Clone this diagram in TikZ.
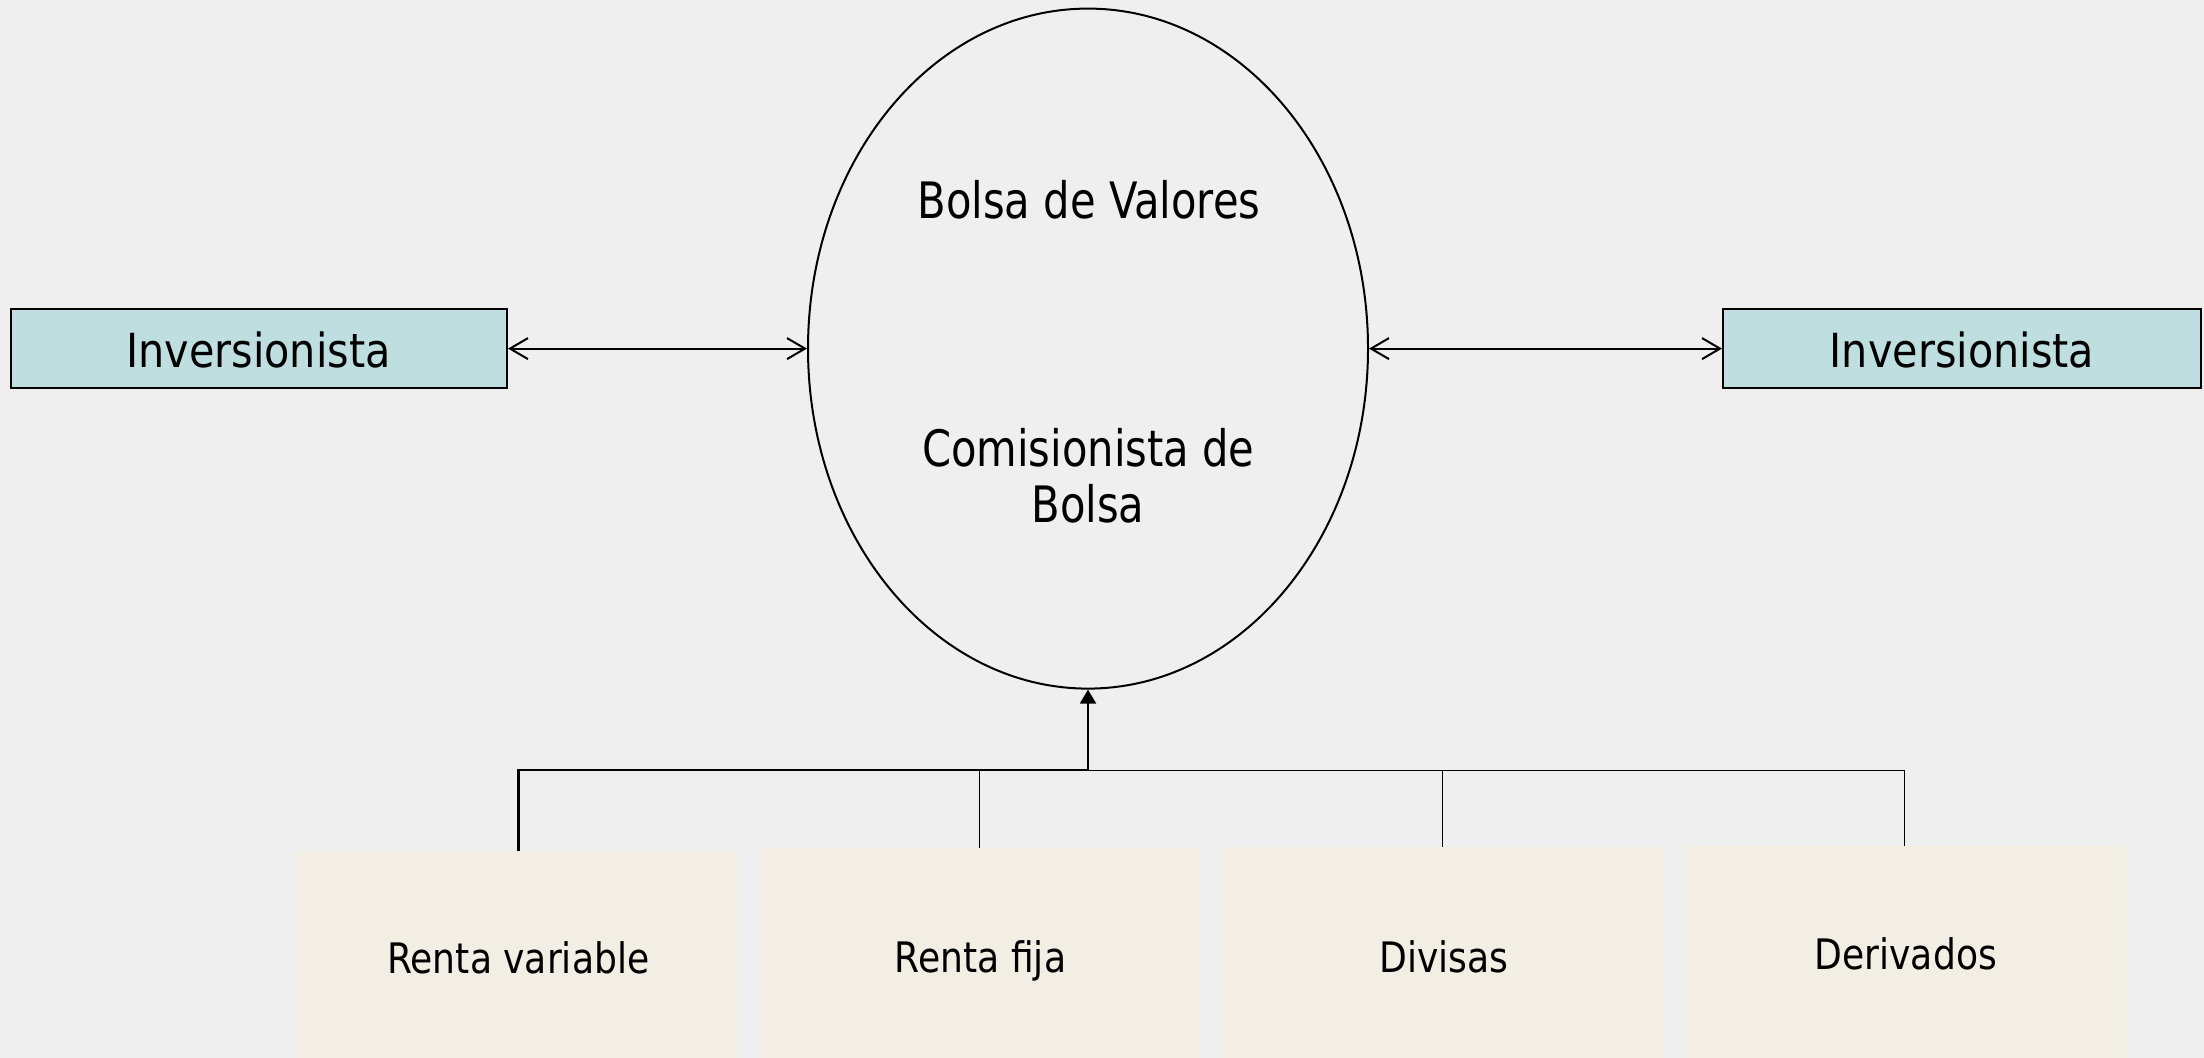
\documentclass[tikz,border=0pt]{standalone}
\usepackage{fontspec}
\setmainfont{DejaVu Sans}
\newfontfamily\fEll{DejaVu Sans}[FakeStretch=0.83]
\newfontfamily\fInv{DejaVu Sans}[FakeStretch=0.88]
\newfontfamily\fBot{DejaVu Sans}[FakeStretch=0.86]
\usetikzlibrary{arrows.meta,shapes.geometric}
\definecolor{bgcol}{RGB}{239,239,239}
\definecolor{invfill}{RGB}{191,222,224}
\definecolor{catfill}{RGB}{242,238,227}
\tikzset{
  invbox/.style={draw=black, line width=1pt, fill=invfill, rectangle, inner sep=0pt, minimum height=39.5pt},
  catbox/.style={fill=catfill, rectangle, inner sep=0pt, minimum width=220pt, anchor=north},
  elltext/.style={anchor=base, inner sep=0pt, font=\fEll\fontsize{25.1}{28}\selectfont},
  invtext/.style={anchor=base, inner sep=0pt, font=\fInv\fontsize{23.5}{27}\selectfont},
  cattext/.style={anchor=base, inner sep=0pt, font=\fBot\fontsize{21}{25}\selectfont},
  sidearrow/.style={line width=1pt, {Straight Barb[length=9pt,width=10.5pt]}-{Straight Barb[length=9pt,width=10.5pt]}},
  thickline/.style={line width=1.35pt},
  thinline/.style={line width=0.5pt},
}
\begin{document}
\begin{tikzpicture}[x=0.5pt,y=-0.5pt]
\useasboundingbox (0,0) rectangle (2204,1058);
\fill[bgcol] (0,0) rectangle (2204,1058);

% ellipse
\node[draw=black, line width=1pt, ellipse, inner sep=0pt, minimum width=280pt, minimum height=340pt] (ell) at (1088,348.6) {};
\node[elltext] (bolsa) at (1089,218.75) {Bolsa de Valores};
\node[elltext] (comA) at (1088.4,466.5) {Comisionista de};
\node[elltext] (comB) at (1088,522.3) {Bolsa};

% investor boxes
\node[invbox, minimum width=248pt] (invL) at (259,348.6) {};
\node[invbox, minimum width=239pt] (invR) at (1962,348.6) {};
\node[invtext] (invLt) at (258.5,367.7) {Inversionista};
\node[invtext] (invRt) at (1962,367.7) {Inversionista};

\draw[sidearrow] (invL.east) -- (ell.west);
\draw[sidearrow] (ell.east) -- (invR.west);

% category boxes
\node[catbox, minimum height=103.5pt] (c1) at (518,851) {};
\node[catbox, minimum height=105.2pt] (c2) at (981,847.6) {};
\node[catbox, minimum height=105.5pt] (c3) at (1443,847) {};
\node[catbox, minimum height=106pt] (c4) at (1906,846) {};

\node[cattext] (t1) at (518.3,973.3) {Renta variable};
\node[cattext] (t2) at (980.5,972.3) {Renta fija};
\node[cattext] (t3) at (1443.7,972.3) {Divisas};
\node[cattext] (t4) at (1905.8,969) {Derivados};

% bus
\coordinate (hub) at (1088,770);
\coordinate (b1) at (518.7,770);
\coordinate (b2) at (979.7,770);
\coordinate (b3) at (1442,770);
\coordinate (b4) at (1904.6,770);

\draw[thickline] (c1.north -| b1) -- (b1) -- (hub);
\draw[thinline] (hub) -- (b4);
\draw[thinline] (b2) -- (c2.north -| b2);
\draw[thinline] (b3) -- (c3.north -| b3);
\draw[thinline] (b4) -- (c4.north -| b4);
\draw[line width=1pt, -{Triangle[length=7pt,width=8pt]}] (hub) -- (ell.south);
\end{tikzpicture}
\end{document}
